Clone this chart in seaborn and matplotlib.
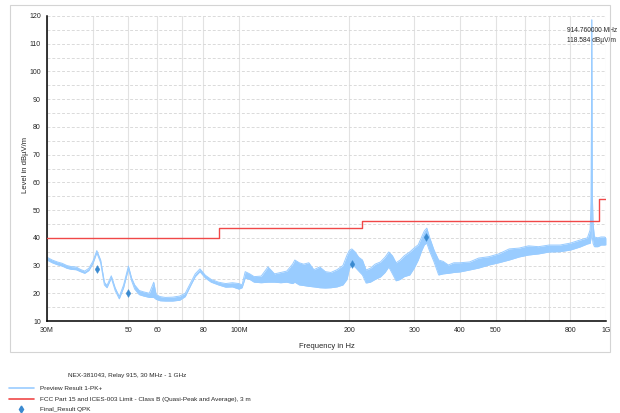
import matplotlib
matplotlib.use("Agg")
import matplotlib.pyplot as plt
import seaborn as sns
from matplotlib.lines import Line2D
from matplotlib.patches import Rectangle
from matplotlib.ticker import FixedLocator, NullLocator, MultipleLocator


# preview trace envelope (MHz, upper / lower level in dBuV/m)
freq_mhz = [30, 31, 32, 33, 34, 35, 36, 37, 38, 39, 40, 41, 42, 43, 43.7, 44.9,
            46, 47.2, 48.5, 50, 51, 52, 53.5, 55, 57, 58.6, 59.5, 61, 63, 66,
            69, 71.4, 74, 76, 78.3, 81, 84, 88, 92, 96, 100, 102, 104, 107,
            110, 115, 120, 125, 130, 135, 140, 142, 146, 150, 155, 160, 166,
            172, 178, 185, 192, 197, 200, 203, 207, 212, 217, 222, 228, 235,
            243, 250, 256, 262, 268, 275, 282, 292, 300, 308, 315, 320, 325,
            330, 340, 350, 360, 372, 385, 400, 425, 450, 480, 510, 545, 580,
            615, 655, 700, 750, 800, 850, 890, 905, 911, 914.76, 918, 922,
            930, 950, 970, 990, 1000]
level_hi = [33.0, 32.0, 31.3, 30.8, 30.0, 29.6, 29.5, 28.6, 28.0, 29.0, 31.5,
            35.4, 32.0, 24.0, 22.8, 26.3, 22.0, 18.8, 23.0, 29.8, 25.5, 23.0,
            21.0, 20.5, 20.0, 24.0, 19.5, 18.8, 18.5, 18.6, 19.0, 20.0, 24.0,
            27.0, 28.8, 26.5, 25.0, 24.0, 23.5, 23.8, 23.5, 23.0, 27.8, 27.0,
            26.0, 26.2, 29.5, 27.0, 27.5, 28.0, 30.5, 32.0, 31.0, 30.5, 31.0,
            28.5, 29.5, 27.8, 27.5, 28.5, 30.0, 33.8, 35.5, 36.0, 35.0, 33.0,
            32.0, 28.4, 29.0, 30.5, 31.3, 33.0, 34.9, 33.5, 31.0, 32.0, 33.5,
            34.9, 36.3, 37.5, 40.5, 42.5, 43.5, 40.5, 35.6, 32.0, 31.5, 30.2,
            31.0, 31.0, 31.3, 32.7, 33.2, 34.2, 36.0, 36.3, 37.1, 36.8, 37.4,
            37.4, 38.1, 39.2, 40.0, 42.8, 53.0, 118.584, 55.0, 45.0, 40.3,
            40.0, 40.3, 40.3, 40.0]
level_lo = [32.0, 31.0, 30.3, 29.8, 29.0, 28.6, 28.5, 27.8, 27.2, 28.2, 30.7,
            34.6, 31.0, 23.0, 22.0, 25.5, 21.0, 18.0, 22.0, 28.8, 24.5, 21.5,
            19.5, 19.0, 18.5, 18.5, 17.8, 17.3, 17.2, 17.2, 17.5, 18.8, 23.0,
            26.0, 27.8, 25.5, 24.0, 23.0, 22.2, 22.3, 21.5, 22.0, 25.5, 25.0,
            24.0, 23.8, 24.0, 24.0, 23.8, 24.0, 23.5, 24.0, 23.0, 22.8, 22.5,
            22.3, 22.0, 21.9, 22.0, 22.3, 23.0, 25.0, 29.0, 30.2, 29.5, 28.0,
            26.6, 23.7, 24.0, 25.0, 25.9, 27.5, 29.5, 27.0, 24.5, 25.0, 26.0,
            26.6, 29.0, 32.0, 35.5, 37.5, 38.1, 35.5, 31.3, 26.6, 27.0, 27.2,
            27.5, 27.7, 28.4, 29.1, 30.2, 31.0, 32.0, 33.1, 33.8, 34.2, 34.9,
            35.0, 35.6, 36.7, 37.8, 38.0, 40.0, 118.584, 40.0, 38.0, 36.8,
            36.8, 37.4, 37.4, 37.5]

# FCC Class B limit steps
limit_freq = [30, 88, 88, 216, 216, 960, 960, 1000]
limit_level = [40, 40, 43.5, 43.5, 46, 46, 54, 54]

# final QPK results
qpk_freq = [41.0, 50.0, 203.5, 324.0]
qpk_level = [28.6, 20.2, 30.4, 40.4]

peak_freq = 914.76
peak_level = 118.584

x_ticks = [30, 40, 50, 60, 70, 80, 100, 200, 300, 400, 500, 600, 700, 800, 1000]
x_labels = ["30M", "", "50", "60", "", "80", "100M", "200", "300", "400",
            "500", "", "", "800", "1G"]

TRACE = "#99ccff"
LIMIT = "#f04848"
QPK = "#3a8ad0"

sns.set_style("white")
plt.rcParams["font.family"] = ["Liberation Sans", "DejaVu Sans"]

fig = plt.figure(figsize=(6.2, 4.13), dpi=100)
W, H = 620, 413
ax = fig.add_axes([47 / W, 1 - 321 / H, (606 - 47) / W, (321 - 16) / H])

# outer frame
fig.patches.append(Rectangle((10 / W, 1 - 352 / H), 600 / W, 347 / H,
                             transform=fig.transFigure, fill=False,
                             edgecolor="#d4d4d4", lw=0.8, zorder=0))

ax.set_xscale("log")
ax.fill_between(freq_mhz, level_lo, level_hi, color=TRACE, lw=0, zorder=2)
sns.lineplot(x=freq_mhz, y=level_hi, ax=ax, color=TRACE, lw=0.7,
             estimator=None, sort=False, zorder=2)
sns.lineplot(x=freq_mhz, y=level_lo, ax=ax, color=TRACE, lw=0.7,
             estimator=None, sort=False, zorder=2)
sns.lineplot(x=limit_freq, y=limit_level, ax=ax, color=LIMIT, lw=1.0,
             estimator=None, sort=False, zorder=3)
sns.scatterplot(x=qpk_freq, y=qpk_level, ax=ax, marker="d", s=16,
                color=QPK, edgecolor=QPK, linewidth=0.3, zorder=4)

ax.text(peak_freq, 114.6, "914.760000 MHz", ha="center", va="center", fontsize=4.8)
ax.text(peak_freq, 111.0, "118.584 dB\u00b5V/m", ha="center", va="center", fontsize=4.8)

ax.set_xlim(30, 1000)
ax.set_ylim(10, 120)
ax.xaxis.set_major_locator(FixedLocator(x_ticks))
ax.xaxis.set_minor_locator(NullLocator())
ax.set_xticklabels(x_labels)
ax.yaxis.set_major_locator(MultipleLocator(10))
ax.yaxis.set_minor_locator(MultipleLocator(5))

ax.grid(axis="x", which="major", color="#e2e2e2", lw=0.8, ls="-", zorder=0)
ax.grid(axis="y", which="both", color="#dadada", lw=0.7, ls=(0, (3, 2)), zorder=0)
ax.set_axisbelow(True)

for side in ["top", "right"]:
    ax.spines[side].set_visible(False)
for side in ["left", "bottom"]:
    ax.spines[side].set_color("black")
    ax.spines[side].set_linewidth(1.1)

ax.tick_params(axis="both", which="major", direction="out", length=3, width=0.9,
               color="black", labelsize=5, pad=1.5)
ax.tick_params(axis="y", which="minor", direction="out", length=2, width=0.9,
               color="black")

ax.set_xlabel("Frequency in Hz", fontsize=5.5, va="center")
ax.set_ylabel("Level in dB\u00b5V/m", fontsize=5.5, va="center")
ax.xaxis.set_label_coords((327 - 47) / 559, -(347 - 321) / 305)
ax.yaxis.set_label_coords(-(47 - 26) / 559, (321 - 165) / 305)

fig.text(68 / W, 1 - 376 / H, "NEX-381043, Relay 915, 30 MHz - 1 GHz",
         fontsize=4.6, va="center")

handles = [Line2D([], [], color=TRACE, lw=1.2),
           Line2D([], [], color=LIMIT, lw=1.2),
           Line2D([], [], color=QPK, marker="d", ls="none", markersize=3.5)]
labels = ["Preview Result 1-PK+",
          "FCC Part 15 and ICES-003 Limit - Class B (Quasi-Peak and Average), 3 m",
          "Final_Result QPK"]
fig.legend(handles, labels, loc="upper left", bbox_to_anchor=(9 / W, 1 - 386 / H),
           frameon=False, fontsize=4.6, handlelength=3.9, handletextpad=1.0,
           labelspacing=0.75, borderaxespad=0, borderpad=0)

fig.savefig("out.png", dpi=100)
